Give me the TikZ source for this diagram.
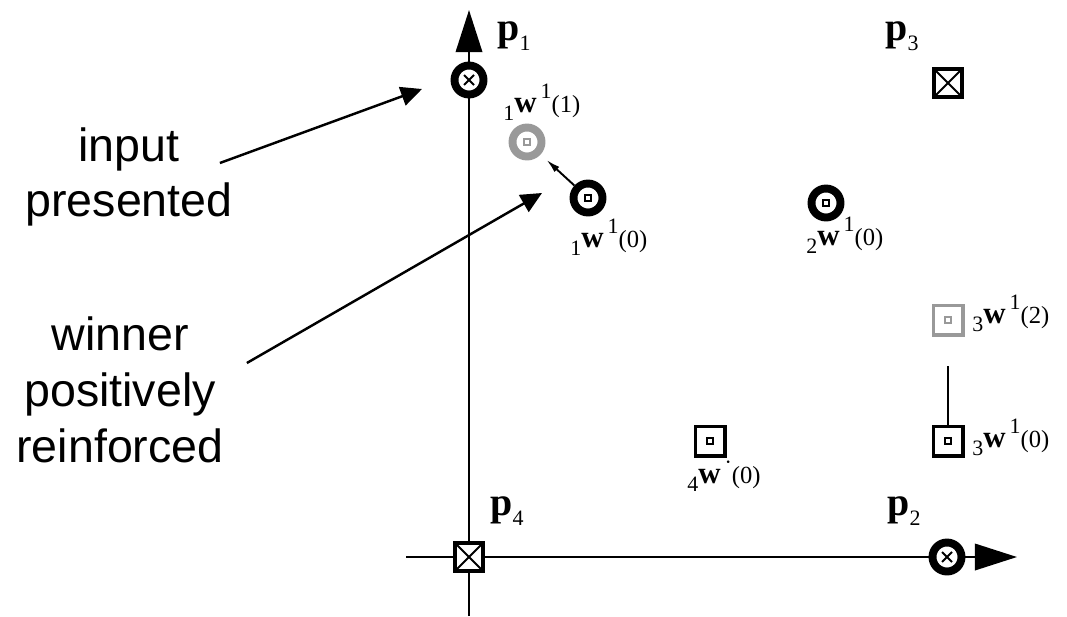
\documentclass[tikz,border=0pt]{standalone}
\usepackage{fontspec}
\setmainfont{Liberation Sans}
\newfontfamily\serf{Liberation Serif}
\usepackage{tikz}
\usetikzlibrary{arrows.meta}
\usetikzlibrary{calc}
\definecolor{moved}{gray}{0.6}
\newcommand\wsmall{\fontsize{12.5}{12.5}\selectfont}
\newcommand\wlab[3]{\raisebox{-0.16cm}{\wsmall #1}\textbf{w}\kern0.08cm\raisebox{0.28cm}{\wsmall #2}{\fontsize{14}{14}\selectfont(#3)}}
\newcommand\plab[1]{\textbf{p}\raisebox{-0.2cm}{\fontsize{12.5}{12.5}\selectfont #1}}
\tikzset{
  axis/.style={line width=1.5pt,-{Triangle[length=24pt,width=15pt]}},
  callout/.style={line width=1.4pt,-{Triangle[length=12pt,width=11pt]}},
  nudge/.style={line width=1.1pt,-{Latex[length=8pt,width=4pt]},shorten >=0.16cm},
  ring/.style={circle,draw=#1,fill=white,line width=4.5pt,minimum size=0.58cm,inner sep=0pt},
  ring/.default=black,
  xring/.style={ring,path picture={\draw[line width=1.1pt] (path picture bounding box.center) +(-5,-5) -- +(5,5) +(-5,5) -- +(5,-5);}},
  wring/.style={ring=#1,path picture={\draw[#1,line width=1.3pt] (path picture bounding box.center) +(-3,-3) rectangle +(3,3);}},
  wring/.default=black,
  xbox/.style={rectangle,draw,fill=white,line width=2.8pt,minimum size=0.56cm,inner sep=0pt,
    path picture={\draw[line width=1.1pt] (path picture bounding box.south west) -- (path picture bounding box.north east)
      (path picture bounding box.north west) -- (path picture bounding box.south east);}},
  wbox/.style={rectangle,draw=#1,fill=white,line width=2pt,minimum size=0.59cm,inner sep=0pt,
    path picture={\draw[#1,line width=1.3pt] (path picture bounding box.center) +(-3,-3) rectangle +(3,3);}},
  wbox/.default=black,
  plabel/.style={anchor=base west,inner sep=0pt,font=\serf\fontsize{22.7}{22.7}\selectfont},
  wlabel/.style={anchor=base west,inner sep=0pt,font=\serf\fontsize{17.6}{17.6}\selectfont},
  notetext/.style={align=center,inner sep=0pt,font=\fontsize{26.5}{31.7}\selectfont}
}
\begin{document}
\begin{tikzpicture}[x=0.02cm,y=-0.02cm]
  \useasboundingbox (0,0) rectangle (1067,616);
    \coordinate (ybot) at (469,616);
    \coordinate (ytop) at (469,10);
    \coordinate (xleft) at (406,557);
    \coordinate (xright) at (1017,557);
    \draw[axis] (ybot) -- (ytop);
    \draw[axis] (xleft) -- (xright);
    \node[xring] (p1) at (469,80) {};
    \node[xring] (p2) at (947,557) {};
    \node[xbox] (p3) at (948,83) {};
    \node[xbox] (p4) at (469,557) {};
    \node[plabel] (p1lab) at (497,40) {\plab{1}};
    \node[plabel] (p2lab) at (887,515) {\plab{2}};
    \node[plabel] (p3lab) at (885,40) {\plab{3}};
    \node[plabel] (p4lab) at (490,515) {\plab{4}};
    \node[wring] (w1) at (588,198) {};
    \node[wring=moved] (w1new) at (527,142) {};
    \node[wring] (w2) at (826,203) {};
    \node[wbox] (w3) at (948,441) {};
    \node[wbox=moved] (w3new) at (948,320) {};
    \node[wbox] (w4) at (710,441) {};
      \draw[nudge] (w1) -- (w1new);
      \draw[line width=1.1pt,shorten >=0.58cm] (w3) -- (w3new);
    \node[wlabel] (w1newlab) at (503,112) {\wlab{1}{1}{1}};
    \node[wlabel] (w1lab) at (570,247) {\wlab{1}{1}{0}};
    \node[wlabel] (w2lab) at (806,245) {\wlab{2}{1}{0}};
    \node[wlabel] (w3newlab) at (972,323) {\wlab{3}{1}{2}};
    \node[wlabel] (w3lab) at (972,447) {\wlab{3}{1}{0}};
    \node[wlabel] (w4lab) at (687,483) {\wlab{4}{·}{0}};
    \node[notetext] (inp) at (129,177) {input\\presented};
    \node[notetext] (win) at (120,390) {winner\\positively\\reinforced};
    \coordinate (inpto) at (422,89);
    \coordinate (winto) at (542,193);
      \draw[callout] ($(inp.east)+(-13,-14)$) -- (inpto);
      \draw[callout] ($(win.east)+(23,-27)$) -- (winto);
\end{tikzpicture}
\end{document}
